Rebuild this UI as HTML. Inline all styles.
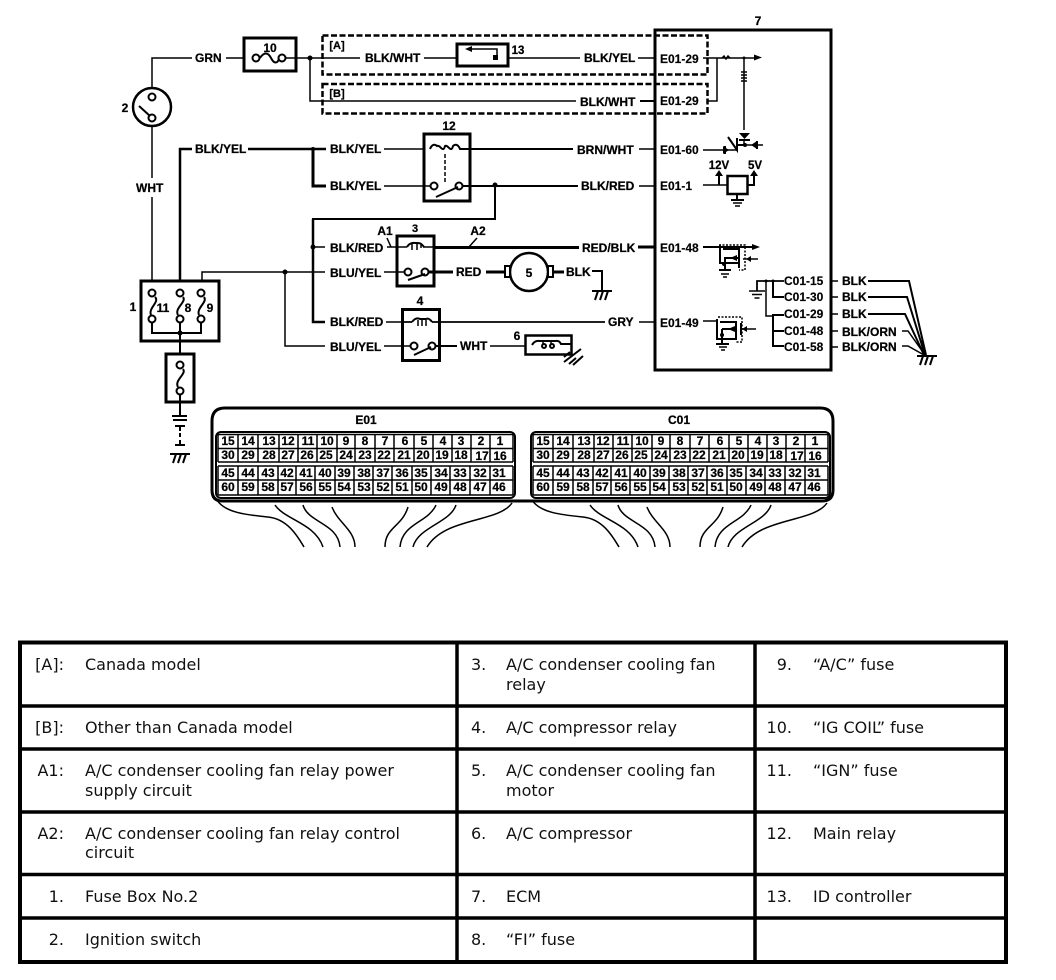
<!DOCTYPE html>
<html><head><meta charset="utf-8"><style>
html,body{margin:0;padding:0;background:#fff}
svg{display:block}
.l{font:bold 12px "Liberation Sans",Arial,sans-serif;fill:#000;stroke:#000;stroke-width:.25}
.p{font:bold 12px "Liberation Sans",Arial,sans-serif;fill:#000;stroke:#000;stroke-width:.15}
.n{font:bold 12px "Liberation Sans",Arial,sans-serif;fill:#000;text-anchor:middle;stroke:#000;stroke-width:.25}
.t{font:16px "DejaVu Sans",sans-serif;fill:#111}
.e{text-anchor:end}
.w{fill:none;stroke:#000;stroke-width:1.5}
.k{fill:none;stroke:#000;stroke-width:3}
.m{fill:none;stroke:#000;stroke-width:2}
.b{fill:none;stroke:#000;stroke-width:3}
.c{fill:#fff;stroke:#000;stroke-width:2}
.d{fill:#000}
.ds{fill:none;stroke:#000;stroke-width:2.5;stroke-dasharray:6 2.5}
.h{fill:none;stroke:#000;stroke-width:1.5}
.tb{stroke:#000;stroke-width:3.5;fill:none}
</style></head><body>
<svg width="1056" height="980" viewBox="0 0 1056 980" xmlns="http://www.w3.org/2000/svg">
<defs>
<g id="gnd"><path class="m" d="M-10 0H10M-4 0L-7 9M1 0L-2 9M6 0L3 9"/></g>
<g id="sg"><path class="h" d="M-8 0H8M-5 3.500H5M-2.500 7H2.500"/></g>
</defs>

<!-- ignition switch & top wire -->
<path class="w" d="M152 88V58H192M226 58H243"/>
<text class="l" x="195" y="62">GRN</text>
<circle cx="152" cy="107" r="19" class="b" style="stroke-width:2.500"/>
<circle cx="152" cy="97" r="3.500" class="c"/>
<circle cx="152" cy="118" r="3.500" class="c"/>
<path class="m" d="M139 106L150 116"/>
<text class="n" x="125" y="112">2</text>
<path class="w" d="M152 126V178M152 197V281"/>
<text class="l" x="136" y="192">WHT</text>

<!-- fuse 10 -->
<rect x="244" y="38" width="52" height="33" class="b"/>
<text class="n" x="270" y="52">10</text>
<path class="w" d="M286 58H322"/>
<path class="m" d="M260 58C264 52 268 52 271 58S278 64 279 58"/>
<circle cx="256" cy="58" r="3.500" class="c"/><circle cx="282" cy="58" r="3.500" class="c"/>
<circle cx="310" cy="58" r="2.500" class="d"/>
<path class="w" d="M310 58V101H576"/>
<path class="w" d="M322 58H360M424 58H456M508 58H580M638 58H654"/>
<text class="l" x="365" y="62">BLK/WHT</text>
<text class="l" x="584" y="62">BLK/YEL</text>
<path class="w" d="M640 101H654" style="stroke-width:2"/>
<text class="l" x="580" y="106">BLK/WHT</text>

<!-- dashed boxes -->
<rect x="322.500" y="35.500" width="385" height="39" class="ds"/>
<rect x="322.500" y="84" width="385" height="29.500" class="ds"/>
<text class="n" x="337" y="49" style="font-size:11px">[A]</text>
<text class="n" x="337" y="97" style="font-size:11px">[B]</text>

<!-- 13 -->
<rect x="457" y="44" width="51" height="22" class="b"/>
<path class="w" d="M497 58V49H468"/><path class="d" d="M465 49L472 46V52Z"/><rect x="493" y="55" width="5" height="5" class="d"/>
<text class="n" x="518" y="54" style="font-size:11.500px">13</text>

<!-- BLK/YEL feed -->
<path class="k" d="M180 281V149H192M248 149H326" style="stroke-width:2.500"/>
<text class="l" x="195" y="153">BLK/YEL</text>
<circle cx="313" cy="149" r="2" class="d"/>
<path class="k" d="M313 149V186H326"/>
<text class="l" x="330" y="153">BLK/YEL</text>
<text class="l" x="330" y="190">BLK/YEL</text>
<path class="w" d="M384 149H423M384 186H430"/>

<!-- relay 12 -->
<rect x="424" y="134" width="46" height="67" class="b"/>
<text class="n" x="449" y="130" style="font-size:12px">12</text>
<path class="m" d="M430 149C432 144 435 144 437 146C440 144 443 154 445 146C448 144 451 154 453 146C455 144 458 144 460 149H470"/>
<path class="w" d="M445 154V182" stroke-dasharray="4 2"/>
<circle cx="434" cy="186" r="3.500" class="c"/><circle cx="459" cy="186" r="3.500" class="c"/>
<path class="m" d="M436 197L458 187"/>
<path class="w" d="M462 186H578" style="stroke-width:2"/>
<path class="w" d="M470 149H573" style="stroke-width:2"/>
<circle cx="495" cy="185" r="2.500" class="d"/>
<path class="w" d="M495 185V219H313V322H325" style="stroke-width:2"/>
<path class="k" d="M313 219V322H325" style="stroke-width:2.500"/>
<circle cx="313" cy="247" r="2.500" class="d"/>
<text class="l" x="577" y="154">BRN/WHT</text>
<text class="l" x="581" y="190">BLK/RED</text>
<path class="w" d="M639 149H654M639 186H654"/>

<!-- relay 3 -->
<path class="w" d="M313 247H325M387 247H396"/>
<text class="l" x="330" y="252">BLK/RED</text>
<path class="w" d="M202 281V272H325" style="stroke-width:1.500"/>
<text class="l" x="330" y="277">BLU/YEL</text>
<circle cx="285" cy="272" r="2.500" class="d"/>
<path class="w" d="M285 272V346H325"/>
<path class="w" d="M384 272H408"/>
<rect x="397" y="236" width="37" height="50" class="b"/>
<text class="n" x="415" y="232" style="font-size:11px">3</text>
<text class="n" x="385" y="235">A1</text>
<text class="n" x="478" y="235">A2</text>
<path class="w" d="M387 238L391 247M477 238L468 248"/>
<path class="w" d="M396 247H407M423 247H434"/>
<path class="m" d="M407 247C410 242 414 243 416 243C420 243 421 243 424 247"/>
<path class="w" d="M412 244V250M417 244V250M421 244V248"/>
<path class="k" d="M434 247.500H579"/>
<text class="l" x="582" y="252">RED/BLK</text>
<path class="k" d="M638 247H654"/>
<circle cx="408" cy="272" r="3.500" class="c"/><circle cx="425" cy="272" r="3.500" class="c"/>
<path class="m" d="M408 280L425 274"/>
<path class="k" d="M429 272H453"/>
<text class="l" x="456" y="276">RED</text>
<path class="k" d="M486 272H506"/>
<circle cx="529" cy="272" r="19" class="b" style="stroke-width:2.500"/>
<rect x="505" y="266" width="5" height="11" class="c"/>
<rect x="548" y="266" width="5" height="11" class="c"/>
<text class="n" x="529" y="277">5</text>
<path class="k" d="M553 272H564"/>
<text class="l" x="566" y="276">BLK</text>
<path class="m" d="M592 271H602V291"/>
<use href="#gnd" x="602" y="291"/>

<!-- relay 4 -->
<text class="l" x="330" y="326">BLK/RED</text>
<text class="l" x="330" y="351">BLU/YEL</text>
<path class="w" d="M386 322H402M384 346H414"/>
<rect x="402.500" y="309.500" width="37" height="51" class="b"/>
<text class="n" x="420" y="305">4</text>
<path class="m" d="M412 322C415 318 418 318 420 319H426C428 318 430 319 432 322"/>
<path class="w" d="M418 320V326M422 320V326M426 320V326"/>
<path class="w" d="M402 322H412M432 322H605" style="stroke-width:1.800"/>
<text class="l" x="608" y="326">GRY</text>
<path class="w" d="M639 322H654"/>
<circle cx="414" cy="346" r="3.500" class="c"/><circle cx="432" cy="346" r="3.500" class="c"/>
<path class="m" d="M414 355L431 347"/>
<path class="m" d="M436 346H457"/>
<text class="l" x="460" y="350">WHT</text>
<path class="w" d="M490 346H525"/>
<text class="n" x="517" y="340">6</text>
<rect x="525.500" y="335.500" width="46" height="19" class="m" style="stroke-width:2.500"/>
<path class="m" d="M532 345C535 340 538 341 541 341H554C557 341 559 340 561 344H572"/>
<path class="w" d="M543 342V348M551 342V348"/>
<circle cx="544" cy="346" r="2" class="c"/><circle cx="552" cy="346" r="2" class="c"/>
<path class="m" d="M564 362L581 349M569 364L576 358M564 357L570 352M573 365L583 356"/>

<!-- fuse box 1 -->
<rect x="141" y="281" width="78" height="60" class="b"/>
<text class="n" x="133" y="311">1</text>
<text class="n" x="163" y="312">11</text>
<text class="n" x="188" y="312">8</text>
<text class="n" x="210" y="312">9</text>
<circle cx="152" cy="293" r="3.500" class="c"/><circle cx="180" cy="293" r="3.500" class="c"/><circle cx="201" cy="293" r="3.500" class="c"/>
<circle cx="152" cy="319" r="3.500" class="c"/><circle cx="180" cy="319" r="3.500" class="c"/><circle cx="201" cy="319" r="3.500" class="c"/>
<path class="m" d="M155 297C160 302 148 308 151 315M183 297C187 302 174 308 178 315M204 297C208 302 196 308 199 315"/>
<path class="m" d="M152 323V333H201V323M180 323V354"/>
<circle cx="180" cy="333" r="2.500" class="d"/>
<rect x="166" y="354" width="28" height="48" class="b"/>
<circle cx="180" cy="365" r="3.500" class="c"/><circle cx="180" cy="391" r="3.500" class="c"/>
<path class="m" d="M183 369C187 374 174 380 178 387"/>
<path class="m" d="M180 395V416"/>
<path class="m" d="M172 416H187M173 420H187M175 426H185M180 426V431M180 433V437M180 440V445M175 445H185"/>
<use href="#gnd" x="180" y="454"/>

<!-- ECM -->
<rect x="655" y="30" width="176" height="340" class="b"/>
<text class="n" x="758" y="25">7</text>
<text class="p" x="660" y="63">E01-29</text>
<text class="p" x="660" y="105">E01-29</text>
<text class="p" x="660" y="154">E01-60</text>
<text class="p" x="660" y="190">E01-1</text>
<text class="p" x="660" y="252">E01-48</text>
<text class="p" x="660" y="327">E01-49</text>
<path class="w" d="M703 58H758"/>
<path class="d" d="M762 57.500L754 54.500V60.500Z"/>
<path class="w" d="M708 101H717V58"/>
<path class="w" d="M722 58L724 56L726 59L728 56L730 58"/>
<circle cx="744" cy="58" r="1.500" class="d"/>
<path class="w" d="M744 58V130"/>
<path class="h" d="M741 72H747M741 75H747M741 78H747M741 81H747"/>
<path class="d" d="M739 133H750L744.500 139Z"/><path class="m" d="M739 140H750"/>
<path class="w" d="M744 139V145H763"/>
<path class="d" d="M751 145L757 141V149Z"/><path class="m" d="M757 141V149"/>
<path class="m" d="M737 138V150L728 137M737 145H744"/>
<path class="w" d="M703 150H738"/>
<path class="d" d="M729 150L723 146V154Z"/><path class="m" d="M725 146V154"/>
<circle cx="745" cy="145" r="2" class="d"/>
<path class="w" d="M703 185H727"/>
<path class="m" d="M719 185V174"/><path class="d" d="M719 170L715 176H723Z"/>
<rect x="727.500" y="176" width="20" height="18" class="m" style="stroke-width:2.500"/>
<path class="m" d="M748 185H754V174"/><path class="d" d="M754 170L750 176H758Z"/>
<text class="n" x="719" y="169" style="font-size:11.500px">12V</text>
<text class="n" x="755" y="169" style="font-size:11.500px">5V</text>
<path class="m" d="M737 194V200M731 200H744"/>
<path class="h" d="M733 203H742M735 206H740"/>

<!-- fet 1 -->
<path class="k" d="M703 247H756" style="stroke-width:2"/>
<path class="d" d="M760 247L752 244V250Z"/>
<path class="m" d="M720 245V263H738M723 249H739V268M724 258H738"/>
<path class="h" d="M719 245H745V270H739" stroke-dasharray="2 1.500"/>
<path class="d" d="M730 258L737 255V261Z"/>
<path class="w" d="M743 259H758"/><path class="d" d="M746 259L751 256V262Z"/>
<circle cx="724" cy="264" r="2" class="d"/>
<path class="m" d="M725 258V270M719 270H731"/>
<path class="h" d="M721 274H729M723 277H727"/>

<!-- fet 2 -->
<path class="w" d="M703 321H718"/>
<path class="m" d="M717 319V339H735M720 322H736V340M722 329H736"/>
<path class="h" d="M718 317H742V342H736" stroke-dasharray="2 1.500"/>
<path class="d" d="M728 329L735 326V332Z"/>
<path class="w" d="M740 329H756"/><path class="d" d="M742 329L747 326V332Z"/>
<path class="m" d="M741 323V335"/>
<circle cx="722" cy="335" r="2" class="d"/>
<path class="m" d="M722 329V344M716 344H729"/>
<path class="h" d="M719 347H727M721 350H725"/>

<!-- C01 -->
<path class="w" d="M757 291V281H784" style="stroke-width:1.800"/>
<use href="#sg" x="757" y="291"/>
<circle cx="766" cy="281" r="1.500" class="d"/>
<circle cx="773" cy="281" r="1.500" class="d"/>
<path class="m" d="M773 281V297H784"/>
<path class="w" d="M766 281V316H773"/>
<path class="m" d="M784 315H773V346H784M773 331H784"/>
<text class="p" x="784" y="285">C01-15</text>
<text class="p" x="784" y="301">C01-30</text>
<text class="p" x="784" y="318">C01-29</text>
<text class="p" x="784" y="335">C01-48</text>
<text class="p" x="784" y="351">C01-58</text>
<path class="w" d="M831 281H838M831 297H838M831 314H838M831 331H838M831 347H838"/>
<text class="l" x="842" y="285">BLK</text>
<text class="l" x="842" y="301">BLK</text>
<text class="l" x="842" y="318">BLK</text>
<text class="l" x="842" y="336">BLK/ORN</text>
<text class="l" x="842" y="351">BLK/ORN</text>
<path class="m" d="M868 281H909L926 355M868 297H907L925 355M868 314H905L924 355"/>
<path class="w" d="M902 331H908L925 355M902 346H908L924 355"/>
<use href="#gnd" x="927" y="356"/>

<!-- connector outer -->
<path class="b" d="M212 490V421Q212 408 225 408H820Q833 408 833 421V490Q833 501 822 501H222Q212 501 212 490"/>
<text class="n" x="366" y="424">E01</text>
<text class="n" x="679" y="424">C01</text>

<g id="conn">
<rect x="216" y="432" width="299" height="66" rx="5" class="m"/>
<path class="w" d="M218 434.500H513M218 448.500H513M218 462H513M218 466H513M218 480H513M218 495H513"/>
<path class="w" d="M238 434V462M258 434V462M279 434V462M298 434V462M317 434V462M337 434V462M355 434V462M375 434V462M394 434V462M414 434V462M433 434V462M452 434V462M471 434V462M490 434V462M218 434V462M513 434V462"/>
<path class="w" d="M238 466V495M258 466V495M278 466V495M296 466V495M315 466V495M335 466V495M354 466V495M373 466V495M392 466V495M412 466V495M431 466V495M450 466V495M470 466V495M490 466V495M218 466V495M513 466V495"/>
<g>
<text class="n" x="228" y="445">15</text><text class="n" x="248" y="445">14</text><text class="n" x="269" y="445">13</text><text class="n" x="288" y="445">12</text><text class="n" x="308" y="445">11</text><text class="n" x="327" y="445">10</text><text class="n" x="346" y="445">9</text><text class="n" x="365" y="445">8</text><text class="n" x="385" y="445">7</text><text class="n" x="405" y="445">6</text><text class="n" x="424" y="445">5</text><text class="n" x="443" y="445">4</text><text class="n" x="461" y="445">3</text><text class="n" x="481" y="445">2</text><text class="n" x="500" y="445">1</text>
<text class="n" x="228" y="459">30</text><text class="n" x="248" y="459">29</text><text class="n" x="269" y="459">28</text><text class="n" x="288" y="459">27</text><text class="n" x="307" y="459">26</text><text class="n" x="326" y="459">25</text><text class="n" x="346" y="459">24</text><text class="n" x="365" y="459">23</text><text class="n" x="384" y="459">22</text><text class="n" x="404" y="459">21</text><text class="n" x="423" y="459">20</text><text class="n" x="442" y="459">19</text><text class="n" x="461" y="459">18</text><text class="n" x="482" y="460">17</text><text class="n" x="500" y="460">16</text>
<text class="n" x="228" y="477">45</text><text class="n" x="248" y="477">44</text><text class="n" x="268" y="477">43</text><text class="n" x="287" y="477">42</text><text class="n" x="306" y="477">41</text><text class="n" x="325" y="477">40</text><text class="n" x="344" y="477">39</text><text class="n" x="364" y="477">38</text><text class="n" x="383" y="477">37</text><text class="n" x="402" y="477">36</text><text class="n" x="421" y="477">35</text><text class="n" x="441" y="477">34</text><text class="n" x="460" y="477">33</text><text class="n" x="480" y="477">32</text><text class="n" x="499" y="477">31</text>
<text class="n" x="228" y="491">60</text><text class="n" x="248" y="491">59</text><text class="n" x="268" y="491">58</text><text class="n" x="287" y="491">57</text><text class="n" x="306" y="491">56</text><text class="n" x="325" y="491">55</text><text class="n" x="344" y="491">54</text><text class="n" x="364" y="491">53</text><text class="n" x="383" y="491">52</text><text class="n" x="402" y="491">51</text><text class="n" x="421" y="491">50</text><text class="n" x="441" y="491">49</text><text class="n" x="460" y="491">48</text><text class="n" x="480" y="491">47</text><text class="n" x="499" y="491">46</text>
</g>
<g class="w">
<path d="M217 500C225 513 248 515 268 517S298 537 304 547"/>
<path d="M275 505C285 520 315 523 323 547"/>
<path d="M303 505C308 523 338 523 340 547"/>
<path d="M332 507C338 523 355 530 355 547"/>
<path d="M408 507C402 527 385 527 385 547"/>
<path d="M436 505C428 523 402 523 400 547"/>
<path d="M456 505C450 523 418 527 413 547"/>
<path d="M512 503C498 523 445 517 427 547"/>
</g>
</g>
<use href="#conn" x="315" y="0"/>

<!-- table -->
<rect x="20" y="642.500" width="986" height="319.500" class="tb" style="stroke-width:4"/>
<path class="tb" d="M20 706H1006M20 749H1006M20 812H1006M20 874.500H1006M20 918H1006M457 642V962M755 642V962"/>

<text class="t e" x="64" y="670">[A]:</text><text class="t" x="85" y="670">Canada model</text>
<text class="t e" x="64" y="733">[B]:</text><text class="t" x="85" y="733">Other than Canada model</text>
<text class="t e" x="64" y="776">A1:</text><text class="t" x="85" y="776">A/C condenser cooling fan relay power</text><text class="t" x="85" y="796">supply circuit</text>
<text class="t e" x="64" y="839">A2:</text><text class="t" x="85" y="839">A/C condenser cooling fan relay control</text><text class="t" x="85" y="858">circuit</text>
<text class="t e" x="64" y="902">1.</text><text class="t" x="85" y="902">Fuse Box No.2</text>
<text class="t e" x="64" y="945">2.</text><text class="t" x="85" y="945">Ignition switch</text>

<text class="t" x="471" y="670">3.</text><text class="t" x="506" y="670">A/C condenser cooling fan</text><text class="t" x="506" y="690">relay</text>
<text class="t" x="471" y="733">4.</text><text class="t" x="506" y="733">A/C compressor relay</text>
<text class="t" x="471" y="776">5.</text><text class="t" x="506" y="776">A/C condenser cooling fan</text><text class="t" x="506" y="796">motor</text>
<text class="t" x="471" y="839">6.</text><text class="t" x="506" y="839">A/C compressor</text>
<text class="t" x="471" y="902">7.</text><text class="t" x="506" y="902">ECM</text>
<text class="t" x="471" y="945">8.</text><text class="t" x="506" y="945">“FI” fuse</text>

<text class="t e" x="792" y="670">9.</text><text class="t" x="813" y="670">“A/C” fuse</text>
<text class="t e" x="792" y="733">10.</text><text class="t" x="813" y="733">“IG COIL” fuse</text>
<text class="t e" x="792" y="776">11.</text><text class="t" x="813" y="776">“IGN” fuse</text>
<text class="t e" x="792" y="839">12.</text><text class="t" x="813" y="839">Main relay</text>
<text class="t e" x="792" y="902">13.</text><text class="t" x="813" y="902">ID controller</text>
</svg>
</body></html>
